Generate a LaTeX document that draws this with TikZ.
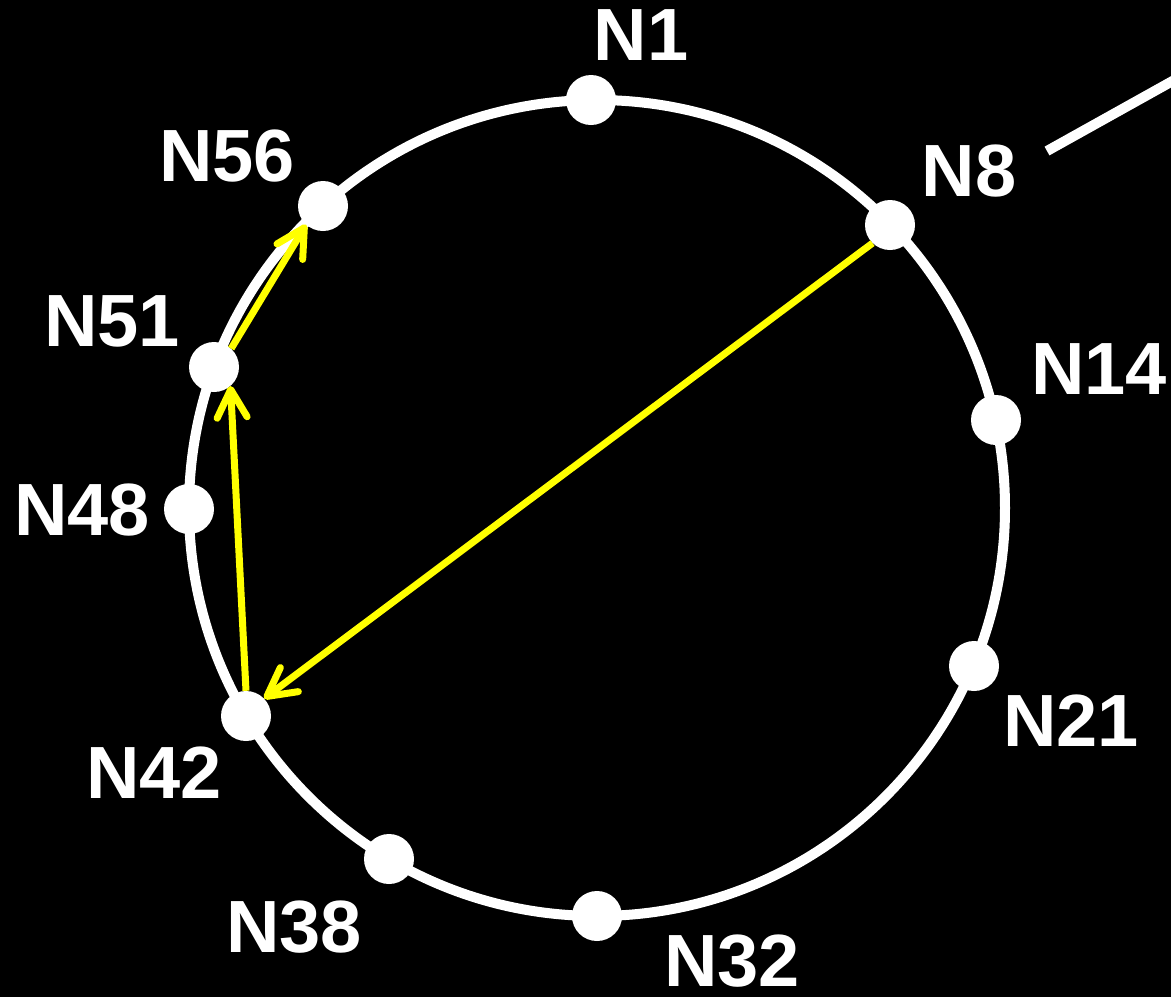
\documentclass[tikz,border=0pt]{standalone}
\usepackage{fontspec}
\setmainfont{Liberation Sans}
\usetikzlibrary{arrows.meta}
\definecolor{ylw}{RGB}{255,255,0}
\tikzset{
  dot/.style={circle, fill=white, minimum size=50pt, inner sep=0pt},
  lbl/.style={text=white, font=\fontsize{74}{80}\selectfont\bfseries, inner sep=0pt},
  ring/.style={draw=white, line width=10pt},
  hop/.style={draw=ylw, line width=7pt, -{Straight Barb[length=28pt,width=30pt,round]}},
}
\begin{document}
\begin{tikzpicture}[x=1pt,y=-1pt]
\fill[black] (0,0) rectangle (1171,997);
\useasboundingbox (0,0) rectangle (1171,997);
\clip (0,0) rectangle (1171,997);
% ring
\coordinate (c) at (597,508);
\draw[ring] (c) circle[radius=408pt];
% partial line at top right
\coordinate (t1) at (1047,151);
\coordinate (t2) at (1200,65.7);
\draw[white, line width=10pt] (t1) -- (t2);
% dots
\node[dot] (n1)  at (591,100) {};
\node[dot] (n8)  at (890,225) {};
\node[dot] (n14) at (996,420) {};
\node[dot] (n21) at (974,666) {};
\node[dot] (n32) at (597,916) {};
\node[dot] (n38) at (389,859) {};
\node[dot] (n42) at (246,716) {};
\node[dot] (n48) at (189,509) {};
\node[dot] (n51) at (214,367) {};
\node[dot] (n56) at (323,206) {};
% labels
\node[lbl] (l1)  at (641,35)  {N1};
\node[lbl] (l8)  at (969,171) {N8};
\node[lbl] (l14) at (1099,369) {N14};
\node[lbl] (l21) at (1071,721) {N21};
\node[lbl] (l32) at (732,961) {N32};
\node[lbl] (l38) at (294,927) {N38};
\node[lbl] (l42) at (154,773) {N42};
\node[lbl] (l51) at (112,321) {N51};
\node[lbl] (l48) at (82,510)  {N48};
\node[lbl] (l56) at (227,156) {N56};
% yellow hops
\draw[hop] (n8.226) -- (n42.44);
\draw[hop] (n42.90) -- (n51.-49);
\draw[hop] (n51.47) -- (n56.228);
\end{tikzpicture}
\end{document}
